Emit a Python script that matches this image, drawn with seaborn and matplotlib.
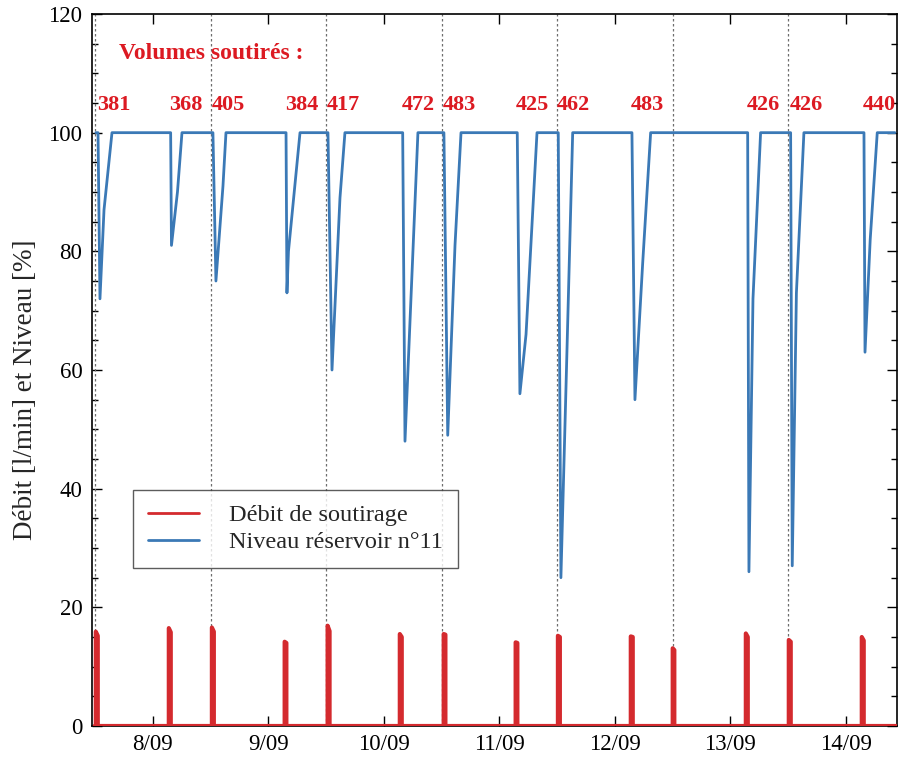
import numpy as np
import pandas as pd
import matplotlib
matplotlib.use("Agg")
import matplotlib.pyplot as plt
import seaborn as sns
from matplotlib.ticker import MultipleLocator, FixedLocator

# ---------------- data (x in days of September) ----------------
day_ticks = [8, 9, 10, 11, 12, 13, 14]
day_labels = ["8/09", "9/09", "10/09", "11/09", "12/09", "13/09", "14/09"]
midnights = [7.5, 8.5, 9.5, 10.5, 11.5, 12.5, 13.5]

# reservoir level events (drop, minimum, knee on recovery, back to full)
lvl_start_t = 7.506
lvl_end_t = 14.424
evt_drop_t = [7.524, 8.153, 8.519, 9.152, 9.515, 10.162, 10.519, 11.154, 11.509, 12.147, 13.149, 13.521, 14.156]
evt_min_t = [7.541, 8.160, 8.545, 9.160, 9.550, 10.182, 10.552, 11.177, 11.532, 12.173, 13.160, 13.535, 14.165]
evt_min = [72, 81, 75, 73, 60, 48, 49, 56, 25, 55, 26, 27, 63]
evt_mid_t = [7.576, 8.212, 8.606, 9.173, 9.619, 10.240, 10.615, 11.230, 11.580, 12.240, 13.195, 13.571, 14.210]
evt_mid = [87, 90, 91, 80, 89, 75, 81, 66, 60, 78, 72, 73, 82]
evt_full_t = [7.645, 8.251, 8.632, 9.273, 9.662, 10.294, 10.667, 11.325, 11.634, 12.309, 13.261, 13.636, 14.271]
full_level = 100

# withdrawal flow spikes
flow_t0 = [7.505, 8.137, 8.510, 9.140, 9.512, 10.137, 10.517, 11.140, 11.506, 12.137, 12.500, 13.133, 13.505, 14.137]
flow_t1 = [7.522, 8.154, 8.527, 9.155, 9.529, 10.154, 10.532, 11.155, 11.523, 12.154, 12.514, 13.150, 13.522, 14.154]
flow_peak = [15.9, 16.5, 16.6, 14.2, 16.9, 15.5, 15.5, 14.1, 15.2, 15.1, 13.1, 15.6, 14.5, 15.0]
flow_peak2 = [15.2, 15.8, 15.9, 14.0, 16.0, 15.0, 15.4, 14.0, 15.0, 15.0, 12.8, 15.0, 14.2, 14.4]

volumes = [381, 368, 405, 384, 417, 472, 483, 425, 462, 483, 426, 426, 440]

# ---------------- build series ----------------
lt, lv = [lvl_start_t], [full_level]
for a, b, m, c, mm, d in zip(evt_drop_t, evt_min_t, evt_min, evt_mid_t, evt_mid, evt_full_t):
    lt += [a, b, c, d]
    lv += [full_level, m, mm, full_level]
lt.append(lvl_end_t)
lv.append(full_level)
df_lvl = pd.DataFrame({"t": lt, "v": lv})

ft, fv = [lvl_start_t - 0.01], [0]
for a, b, p, p2 in zip(flow_t0, flow_t1, flow_peak, flow_peak2):
    ft += [a, a, b, b]
    fv += [0, p, p2, 0]
ft.append(lvl_end_t + 0.02)
fv.append(0)
df_flow = pd.DataFrame({"t": ft, "v": fv})

# ---------------- plot ----------------
sns.set_style("ticks")
plt.rcParams["font.family"] = ["Liberation Serif", "DejaVu Serif"]

fig = plt.figure(figsize=(9.01, 7.61), dpi=100)
ax = fig.add_axes([92 / 901, 35 / 761, 805 / 901, 712 / 761])

red = "#d42a2e"
blue = "#3b79b6"

for m in midnights:
    ax.axvline(m, color="#6e6e6e", lw=0.9, ls=(0, (2, 2)), zorder=1)

sns.lineplot(data=df_flow, x="t", y="v", ax=ax, color=red, lw=3.0,
             estimator=None, sort=False, label="Débit de soutirage", zorder=3)
sns.lineplot(data=df_lvl, x="t", y="v", ax=ax, color=blue, lw=2.0,
             estimator=None, sort=False, label="Niveau réservoir n°11", zorder=4)

ax.set_xlim(7.472, 14.442)
ax.set_ylim(0, 120)
ax.xaxis.set_major_locator(FixedLocator(day_ticks))
ax.set_xticklabels(day_labels)
ax.yaxis.set_major_locator(MultipleLocator(20))
ax.yaxis.set_minor_locator(MultipleLocator(5))
ax.tick_params(axis="both", which="both", direction="in", top=True, right=True,
               labelsize=16.5, colors="black")
ax.tick_params(axis="both", which="major", length=7, width=1)
ax.tick_params(axis="both", which="minor", length=4.5, width=1)
ax.tick_params(axis="y", pad=7)
ax.tick_params(axis="x", pad=6)
for sp in ax.spines.values():
    sp.set_color("black")
    sp.set_linewidth(1.2)

ax.set_xlabel("")
ax.set_ylabel("Débit [l/min] et Niveau [%]", fontsize=19.5)
ax.yaxis.set_label_coords(-0.067, 0.472)

# annotations
ax.text(7.706, 113.3, "Volumes soutirés :", color="#dc1a22", fontsize=17,
        fontweight="bold", ha="left", va="center")
for t, v in zip(evt_drop_t, volumes):
    ax.text(t - 0.01, 104.6, str(v), color="#dc1a22", fontsize=16,
            fontweight="bold", ha="left", va="center")

leg = ax.legend(loc="lower left", bbox_to_anchor=(0.051, 0.222), fontsize=17.5,
                frameon=True, fancybox=False, edgecolor="#333333",
                handlelength=2.1, handletextpad=1.25, borderpad=0.6,
                labelspacing=0.2, borderaxespad=0)
leg.get_frame().set_linewidth(1.0)
for h in leg.get_lines():
    h.set_linewidth(2.0)

fig.savefig("out.png", dpi=100)
